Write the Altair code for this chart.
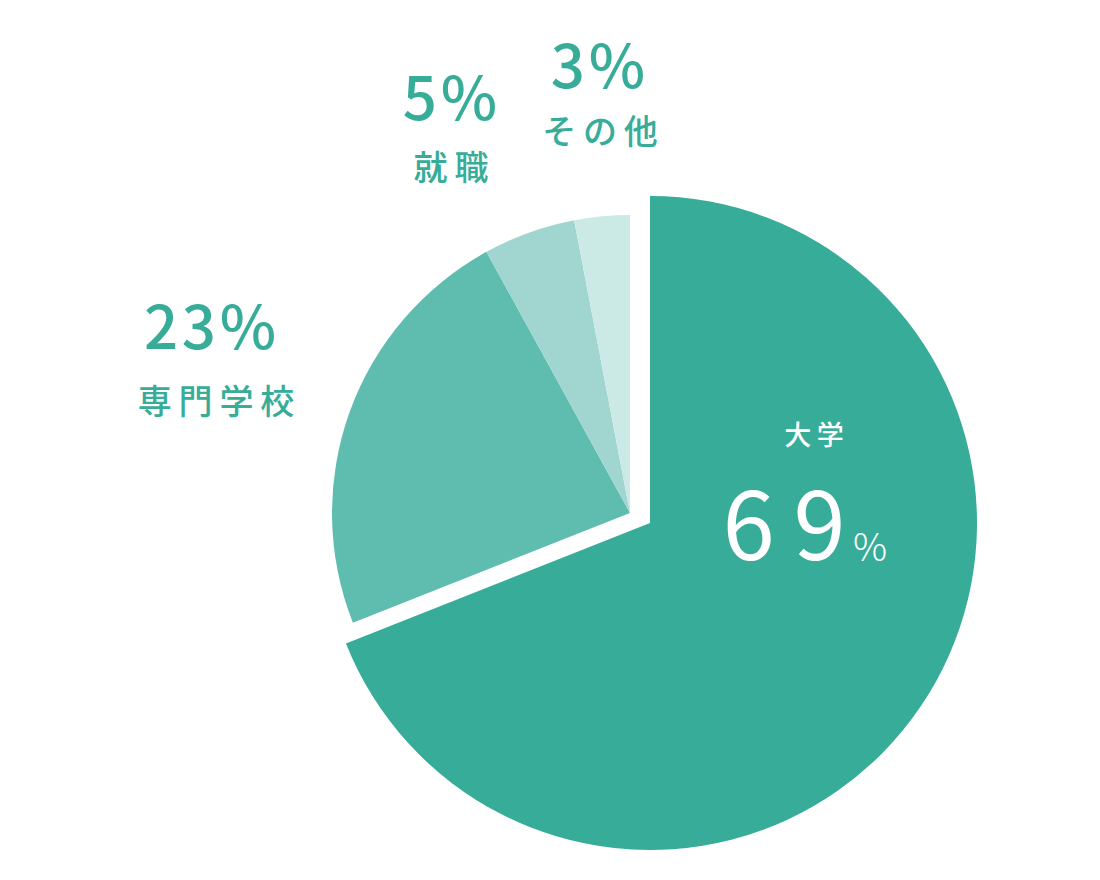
import altair as alt
import pandas as pd

# ---- data ----
categories = ["大学", "専門学校", "就職", "その他"]
values = [69, 23, 5, 3]
order = [1, 2, 3, 4]
colors = ["#37AD99", "#5FBDB0", "#A0D6CF", "#CCEAE5"]

HAIR = "\u200a"
THIN = "\u2009"

df = pd.DataFrame({"category": categories, "value": values, "order": order})
# letter-spaced versions of the same texts
df["name_sp"] = [THIN.join(list(c)) for c in categories]
df["pct_sp"] = [HAIR.join(list(f"{v}%")) for v in values]
df["num_sp"] = [THIN.join(list(str(v))) for v in values]

FONT = "Noto Sans CJK JP"
TEAL = "#37AD99"
W, H = 1084, 864

base = alt.Chart(df).transform_window(
    cum="sum(value)", sort=[alt.SortField("order")], frame=[None, 0]
).transform_calculate(start="datum.cum - datum.value")

theta_scale = alt.Scale(domain=[0, 100])
color = alt.Color("category:N", scale=alt.Scale(domain=categories, range=colors), legend=None)

small = base.transform_filter(alt.datum.category != "大学").mark_arc(radius=298).encode(
    theta=alt.Theta("start:Q", scale=theta_scale),
    theta2="cum:Q",
    color=color,
    x=alt.value(622), y=alt.value(505),
)

big = base.transform_filter(alt.datum.category == "大学").mark_arc(radius=327).encode(
    theta=alt.Theta("start:Q", scale=theta_scale),
    theta2="cum:Q",
    color=color,
    x=alt.value(642), y=alt.value(515),
)

# label style/positions (layout only)
label_pos = {
    "専門学校": dict(px=202, py=341, nx=208, ny=396),
    "就職": dict(px=442, py=112, nx=443, ny=162),
    "その他": dict(px=590, py=80, nx=592, ny=126),
}

layers = [small, big]
for cat, p in label_pos.items():
    d = base.transform_filter(alt.datum.category == cat)
    layers.append(d.mark_text(font=FONT, fontSize=60, fontWeight=500, color=TEAL,
                              align="center", baseline="alphabetic").encode(
        text=alt.Text("pct_sp:N"), x=alt.value(p["px"]), y=alt.value(p["py"])
    ))
    layers.append(d.mark_text(font=FONT, fontSize=34, fontWeight=500, color=TEAL,
                              align="center", baseline="middle").encode(
        text=alt.Text("name_sp:N"), x=alt.value(p["nx"]), y=alt.value(p["ny"])
    ))

dbig = base.transform_filter(alt.datum.category == "大学")
layers.append(dbig.mark_text(font=FONT, fontSize=27, fontWeight=500, color="white",
                             align="center", baseline="middle").encode(
    text=alt.Text("name_sp:N"), x=alt.value(806), y=alt.value(429)))
layers.append(dbig.mark_text(font=FONT, fontSize=94, fontWeight=400, color="white",
                             align="center", baseline="alphabetic").encode(
    text=alt.Text("num_sp:N"), x=alt.value(776), y=alt.value(552)))
layers.append(dbig.mark_text(font=FONT, fontSize=38, fontWeight=300, color="white",
                             align="left", baseline="alphabetic").encode(
    text=alt.value("%"), x=alt.value(845), y=alt.value(553)))

chart = alt.layer(*layers).properties(
    width=W, height=H, padding=0, autosize=alt.AutoSizeParams(type="none")
).configure_view(stroke=None)

chart.save("out.html", embed_options={"renderer": "svg", "actions": False})
